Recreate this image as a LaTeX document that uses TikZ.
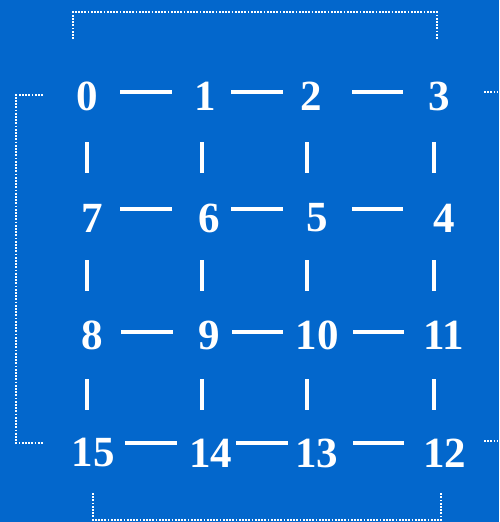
\documentclass[tikz,border=0pt]{standalone}
\usepackage{fontspec}
\setmainfont{Liberation Serif}
\usetikzlibrary{calc}
\definecolor{bg}{RGB}{3,103,204}
\tikzset{
  num/.style={text=white, font=\bfseries\fontsize{43}{43}\selectfont, inner sep=0pt},
  link/.style={draw=white, line width=3.4pt},
  dots/.style={draw=white, line width=1.9pt, dash pattern=on 1.8pt off 1.4pt},
}
\begin{document}
\begin{tikzpicture}[x=1pt,y=-1pt]
\fill[bg] (0,0) rectangle (499,522);
\useasboundingbox (0,0) rectangle (499,522);
% row 0
\node[num] (n0) at (87,96.5) {0};
\node[num] (n1) at (205,96.5) {1};
\node[num] (n2) at (311,96.5) {2};
\node[num] (n3) at (439,96.5) {3};
% row 1
\node[num] (n7) at (92,218) {7};
\node[num] (n6) at (209.5,218) {6};
\node[num] (n5) at (317,218) {5};
\node[num] (n4) at (444,218) {4};
% row 2
\node[num] (n8) at (92.5,335) {8};
\node[num] (n9) at (209.5,335) {9};
\node[num] (n10) at (317,335) {10};
\node[num] (n11) at (444,335) {11};
% row 3
\node[num] (n15) at (93,453) {15};
\node[num] (n14) at (210.5,453) {14};
\node[num] (n13) at (316.5,453) {13};
\node[num] (n12) at (444.5,453) {12};
% horizontal connectors
\draw[link] ($(n0)+(33,-4.5)$) -- ($(n1)+(-33,-4.5)$);
\draw[link] ($(n1)+(26,-4.5)$) -- ($(n2)+(-28,-4.5)$);
\draw[link] ($(n2)+(41,-4.5)$) -- ($(n3)+(-36,-4.5)$);
\draw[link] ($(n7)+(28,-9)$) -- ($(n6)+(-37.5,-9)$);
\draw[link] ($(n6)+(21.5,-9)$) -- ($(n5)+(-34,-9)$);
\draw[link] ($(n5)+(35,-9)$) -- ($(n4)+(-41,-9)$);
\draw[link] ($(n8)+(28.5,-3)$) -- ($(n9)+(-36.5,-3)$);
\draw[link] ($(n9)+(22.5,-3)$) -- ($(n10)+(-34,-3)$);
\draw[link] ($(n10)+(36,-3)$) -- ($(n11)+(-40,-3)$);
\draw[link] ($(n15)+(32,-10)$) -- ($(n14)+(-33.5,-10)$);
\draw[link] ($(n14)+(25.5,-10)$) -- ($(n13)+(-28.5,-10)$);
\draw[link] ($(n13)+(36.5,-10)$) -- ($(n12)+(-40.5,-10)$);
% vertical connectors
\draw[link] ($(n0)+(0,45.5)$) -- ($(n7)+(-5,-45)$);
\draw[link] ($(n7)+(-5,42)$) -- ($(n8)+(-5.5,-44)$);
\draw[link] ($(n8)+(-5.5,44)$) -- ($(n15)+(-6,-43)$);
\draw[link] ($(n1)+(-3,45.5)$) -- ($(n6)+(-7.5,-45)$);
\draw[link] ($(n6)+(-7.5,42)$) -- ($(n9)+(-7.5,-44)$);
\draw[link] ($(n9)+(-7.5,44)$) -- ($(n14)+(-8.5,-43)$);
\draw[link] ($(n2)+(-4,45.5)$) -- ($(n5)+(-10,-45)$);
\draw[link] ($(n5)+(-10,42)$) -- ($(n10)+(-10,-44)$);
\draw[link] ($(n10)+(-10,44)$) -- ($(n13)+(-9.5,-43)$);
\draw[link] ($(n3)+(-5,45.5)$) -- ($(n4)+(-10,-45)$);
\draw[link] ($(n4)+(-10,42)$) -- ($(n11)+(-10,-44)$);
\draw[link] ($(n11)+(-10,44)$) -- ($(n12)+(-10.5,-43)$);
% dotted brackets
\draw[dots] (73,39) -- (73,12) -- (437,12) -- (437,39);
\draw[dots] (43,95) -- (16,95) -- (16,443) -- (43,443);
\draw[dots] (93,493) -- (93,520) -- (441,520) -- (441,493);
\draw[dots] (484,92) -- (497,92);
\draw[dots] (484,441) -- (497,441);
\end{tikzpicture}
\end{document}
